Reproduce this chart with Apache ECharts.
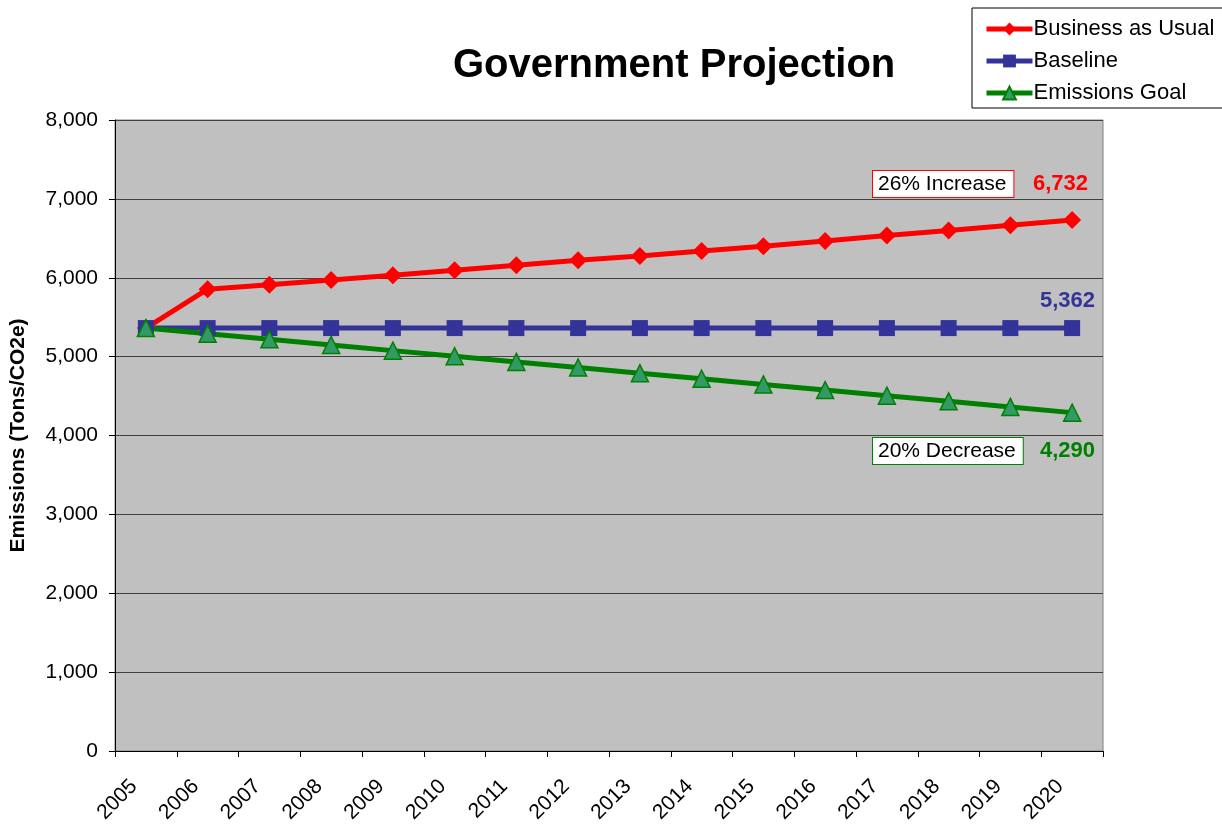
<!DOCTYPE html>
<html>
<head>
<meta charset="utf-8">
<script src="https://cdn.jsdelivr.net/npm/echarts@6/dist/echarts.min.js"></script>
<style>
    html, body { margin: 0; padding: 0; background: #fff; }
    #main { width: 1222px; height: 824px; }
</style>
</head>
<body>
<div id="main"></div>
<script>
    var years = ['2005', '2006', '2007', '2008', '2009', '2010', '2011', '2012',
                 '2013', '2014', '2015', '2016', '2017', '2018', '2019', '2020'];
    var businessAsUsual = [5362, 5855, 5910, 5970, 6033, 6095, 6158, 6222,
                           6276, 6338, 6400, 6465, 6535, 6600, 6665, 6732];
    var baseline = [5362, 5362, 5362, 5362, 5362, 5362, 5362, 5362,
                    5362, 5362, 5362, 5362, 5362, 5362, 5362, 5362];
    var emissionsGoal = [5362, 5291, 5219, 5148, 5076, 5005, 4933, 4862,
                         4790, 4719, 4648, 4576, 4505, 4433, 4362, 4290];
    var yTicks = { min: 0, max: 8000, interval: 1000 };

    var FONT = 'Liberation Sans, Arial, sans-serif';

    var chart = echarts.init(document.getElementById('main'));
    var option = {
        backgroundColor: '#ffffff',
        animation: false,
        title: {
            text: 'Government Projection',
            left: 448,
            top: 41,
            textStyle: { fontFamily: FONT, fontSize: 40, fontWeight: 'bold', color: '#000' }
        },
        legend: {
            orient: 'vertical',
            left: 972,
            top: 8,
            padding: [10, 40, 4, 12],
            itemWidth: 46,
            itemHeight: 16,
            itemGap: 10,
            borderColor: '#000',
            borderWidth: 1,
            backgroundColor: '#fff',
            lineStyle: { width: 5 },
            textStyle: { fontFamily: FONT, fontSize: 22, color: '#000', padding: [0, 0, 0, -4] },
            data: ['Business as Usual', 'Baseline', 'Emissions Goal']
        },
        grid: {
            left: 115,
            right: 119,
            top: 120,
            bottom: 73,
            outerBoundsMode: 'none',
            show: true,
            backgroundColor: '#c0c0c0',
            borderColor: '#808080',
            borderWidth: 1
        },
        xAxis: {
            type: 'category',
            data: years,
            boundaryGap: true,
            axisLine: { lineStyle: { color: '#000', width: 1 } },
            axisTick: { show: true, alignWithLabel: false, length: 6, lineStyle: { color: '#000' } },
            axisLabel: {
                rotate: 45, fontFamily: FONT, fontSize: 21, color: '#000',
                margin: 20, padding: [0, 17, 0, 0]
            }
        },
        yAxis: {
            type: 'value',
            min: yTicks.min,
            max: yTicks.max,
            interval: yTicks.interval,
            name: 'Emissions (Tons/CO2e)',
            nameLocation: 'middle',
            nameGap: 86,
            nameTextStyle: { fontFamily: FONT, fontSize: 21, fontWeight: 'bold', color: '#000' },
            axisLine: { show: true, lineStyle: { color: '#000', width: 1 } },
            axisTick: { show: true, length: 6, lineStyle: { color: '#000' } },
            axisLabel: {
                fontFamily: FONT, fontSize: 21, color: '#000', margin: 17,
                formatter: function (v) { return v.toLocaleString('en-US'); }
            },
            splitLine: { show: true, lineStyle: { color: '#404040', width: 1 } }
        },
        series: [
            {
                name: 'Business as Usual',
                type: 'line',
                data: businessAsUsual,
                symbol: 'diamond',
                symbolSize: 18,
                lineStyle: { color: '#ff0000', width: 5 },
                itemStyle: { color: '#ff0000' }
            },
            {
                name: 'Baseline',
                type: 'line',
                data: baseline,
                symbol: 'rect',
                symbolSize: 16,
                lineStyle: { color: '#333399', width: 5 },
                itemStyle: { color: '#333399' }
            },
            {
                name: 'Emissions Goal',
                type: 'line',
                data: emissionsGoal,
                symbol: 'triangle',
                symbolSize: 17,
                lineStyle: { color: '#008000', width: 5 },
                itemStyle: { color: '#339966', borderColor: '#008000', borderWidth: 1.5 }
            }
        ],
        graphic: [
            {
                type: 'text', left: 872, top: 170,
                style: {
                    text: '26% Increase', fontFamily: FONT, fontSize: 21, fill: '#000',
                    backgroundColor: '#fff', borderColor: '#ff0000', borderWidth: 1, padding: [3, 7, 2, 5]
                }
            },
            {
                type: 'text', left: 1033, top: 173,
                style: { text: '6,732', fontFamily: FONT, fontSize: 22, fontWeight: 'bold', fill: '#ff0000' }
            },
            {
                type: 'text', left: 1040, top: 290,
                style: { text: '5,362', fontFamily: FONT, fontSize: 22, fontWeight: 'bold', fill: '#333399' }
            },
            {
                type: 'text', left: 872, top: 437,
                style: {
                    text: '20% Decrease', fontFamily: FONT, fontSize: 21, fill: '#000',
                    backgroundColor: '#fff', borderColor: '#008000', borderWidth: 1, padding: [3, 7, 2, 5]
                }
            },
            {
                type: 'text', left: 1040, top: 440,
                style: { text: '4,290', fontFamily: FONT, fontSize: 22, fontWeight: 'bold', fill: '#008000' }
            }
        ]
    };
    chart.setOption(option);
</script>
</body>
</html>
